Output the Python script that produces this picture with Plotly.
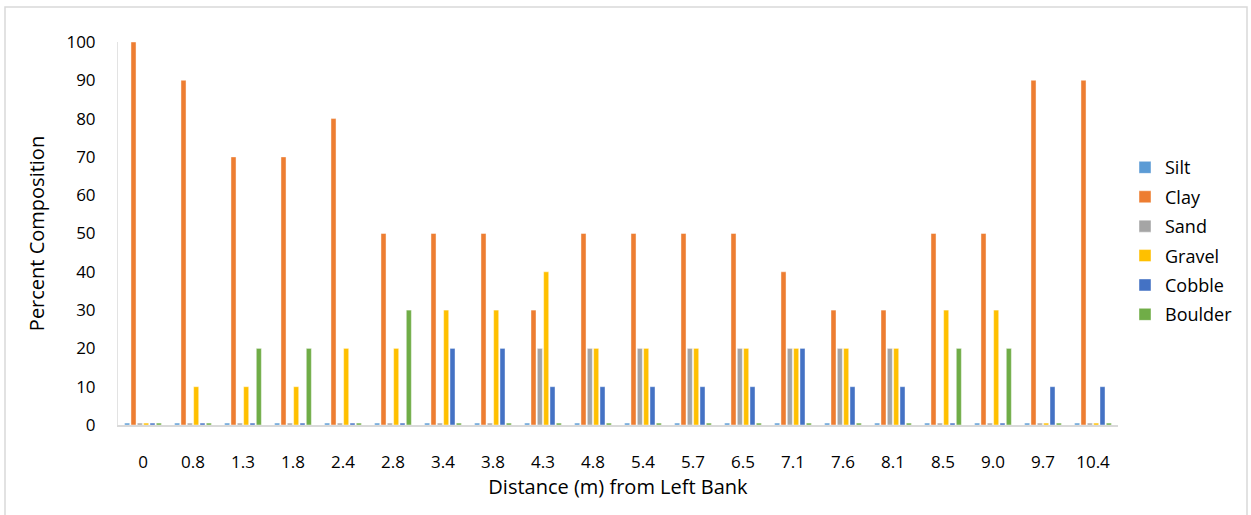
import numpy as np
import plotly.graph_objects as go

# Sampling stations across the channel
distances = ["0", "0.8", "1.3", "1.8", "2.4", "2.8", "3.4", "3.8", "4.3", "4.8",
             "5.4", "5.7", "6.5", "7.1", "7.6", "8.1", "8.5", "9.0", "9.7", "10.4"]

# Percent composition of each sediment class at each station
silt = [0, 0, 0, 0, 0, 0, 0, 0, 0, 0, 0, 0, 0, 0, 0, 0, 0, 0, 0, 0]
clay = [100, 90, 70, 70, 80, 50, 50, 50, 30, 50, 50, 50, 50, 40, 30, 30, 50, 50, 90, 90]
sand = [0, 0, 0, 0, 0, 0, 0, 0, 20, 20, 20, 20, 20, 20, 20, 20, 0, 0, 0, 0]
gravel = [0, 10, 10, 10, 20, 20, 30, 30, 40, 20, 20, 20, 20, 20, 20, 20, 30, 30, 0, 0]
cobble = [0, 0, 0, 0, 0, 0, 20, 20, 10, 10, 10, 10, 10, 20, 10, 10, 0, 0, 10, 10]
boulder = [0, 0, 20, 20, 0, 30, 0, 0, 0, 0, 0, 0, 0, 0, 0, 0, 20, 20, 0, 0]

series = [
    ("Silt", silt, "#5B9BD5"),
    ("Clay", clay, "#ED7D31"),
    ("Sand", sand, "#A5A5A5"),
    ("Gravel", gravel, "#FFC000"),
    ("Cobble", cobble, "#4472C4"),
    ("Boulder", boulder, "#70AD47"),
]

FONT = "Open Sans"
W, H = 1251, 515
ML, MR, MT, MB = 118, 133, 42, 90

fig = go.Figure()
for i, (name, vals, color) in enumerate(series):
    v = np.asarray(vals, dtype=float)
    # zero entries still show as a thin stub sitting on the baseline
    shown = np.where(v == 0, 0.5, v)
    fig.add_trace(go.Bar(
        x=distances, y=shown, name=name,
        customdata=v, hovertemplate="%{x}: %{customdata}<extra>" + name + "</extra>",
        marker=dict(color=color, line=dict(color="rgba(255,255,255,0.55)", width=0.8)),
        legendgroup=f"g{i}",
    ))

fig.update_layout(
    width=W, height=H,
    margin=dict(l=ML, r=MR, t=MT, b=MB),
    paper_bgcolor="white", plot_bgcolor="white",
    barmode="group", bargap=0.24, bargroupgap=0.2,
    font=dict(family=FONT, color="#000000"),
    showlegend=True,
    legend=dict(
        x=1.007, xanchor="left", y=0.48, yanchor="middle",
        font=dict(family=FONT, size=18, color="#000000"),
        traceorder="grouped", tracegroupgap=3,
        itemwidth=30,
    ),
    xaxis=dict(
        type="category",
        showline=True, linecolor="#D9D9D9", linewidth=2,
        showgrid=False, zeroline=False,
        ticks="outside", ticklen=21, tickcolor="rgba(0,0,0,0)",
        tickfont=dict(family=FONT, size=17, color="#000000"),
        title=dict(text="Distance (m) from Left Bank", standoff=8,
                   font=dict(family=FONT, size=20, color="#000000")),
    ),
    yaxis=dict(
        range=[0, 100], dtick=10,
        showline=True, linecolor="#E3E3E3", linewidth=1,
        showgrid=False, zeroline=False,
        ticks="outside", ticklen=18, tickcolor="rgba(0,0,0,0)",
        tickfont=dict(family=FONT, size=17, color="#000000"),
        title=dict(text="Percent Composition", standoff=16,
                   font=dict(family=FONT, size=20, color="#000000")),
    ),
)

# light chart-area frame
pw, ph = W - ML - MR, H - MT - MB
fig.add_shape(
    type="rect", xref="paper", yref="paper",
    x0=(5 - ML) / pw, x1=(1247 - ML) / pw,
    y0=(H - 520 - MB) / ph, y1=(H - 7 - MB) / ph,
    line=dict(color="#D9D9D9", width=1.5), fillcolor="rgba(0,0,0,0)", layer="below",
)

fig.write_html("out.html")
